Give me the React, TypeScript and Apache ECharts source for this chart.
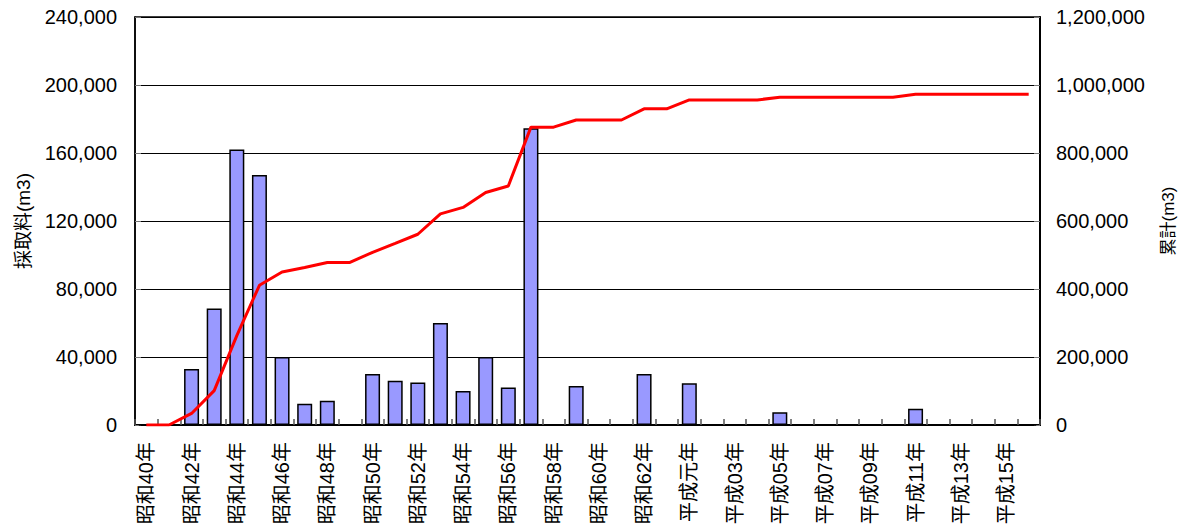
import React, { useEffect, useRef } from "react";
import * as echarts from "echarts";

const categories: string[] = [
  "昭和40年", "昭和41年", "昭和42年", "昭和43年", "昭和44年", "昭和45年", "昭和46年", "昭和47年",
  "昭和48年", "昭和49年", "昭和50年", "昭和51年", "昭和52年", "昭和53年", "昭和54年", "昭和55年",
  "昭和56年", "昭和57年", "昭和58年", "昭和59年", "昭和60年", "昭和61年", "昭和62年", "昭和63年",
  "平成元年", "平成02年", "平成03年", "平成04年", "平成05年", "平成06年", "平成07年", "平成08年",
  "平成09年", "平成10年", "平成11年", "平成12年", "平成13年", "平成14年", "平成15年", "平成16年",
];

// 採取料 (m3) per year
const extraction: number[] = [
  0, 0, 33000, 68600, 162000, 147000, 40000, 12500,
  14300, 0, 30000, 26000, 25000, 60000, 20000, 40000,
  22000, 174500, 0, 23000, 0, 0, 30000, 0,
  24500, 0, 0, 0, 7500, 0, 0, 0,
  0, 0, 9500, 0, 0, 0, 0, 0,
];

// 累計 (m3) cumulative
const cumulative: number[] = [
  0, 0, 34000, 101000, 263000, 411000, 450000, 463000,
  478000, 478000, 508000, 534000, 561000, 621000, 640000, 684000,
  703000, 876000, 876000, 897000, 897000, 897000, 930000, 930000,
  956000, 956000, 956000, 956000, 964000, 964000, 964000, 964000,
  964000, 964000, 973000, 973000, 973000, 973000, 973000, 973000,
];

const leftAxisName = "採取料(m3)";
const rightAxisName = "累計(m3)";

const FONT = "'Liberation Sans', Arial, 'Noto Sans CJK JP', sans-serif";

export default function App() {
  const ref = useRef<HTMLDivElement>(null);

  useEffect(() => {
    document.body.style.margin = "0";
    if (!ref.current) return;
    const chart = echarts.init(ref.current, null, { renderer: "svg" });
    const fmt = (v: number) => v.toLocaleString("en-US");
    chart.setOption({
      animation: false,
      backgroundColor: "#ffffff",
      textStyle: { fontFamily: FONT },
      grid: {
        left: 135,
        right: 145,
        top: 17,
        bottom: 106,
        show: true,
        borderColor: "#000",
        borderWidth: 1.5,
        backgroundColor: "transparent",
      },
      xAxis: {
        type: "category",
        data: categories,
        boundaryGap: true,
        axisLine: { show: true, lineStyle: { color: "#000", width: 2 } },
        axisTick: { show: true, inside: true, length: 6, interval: 0, lineStyle: { color: "#555", width: 1.5 } },
        axisLabel: {
          interval: 1,
          rotate: 90,
          margin: 17,
          color: "#000",
          fontSize: 20,
          fontFamily: FONT,
        },
        splitLine: { show: false },
      },
      yAxis: [
        {
          type: "value",
          min: 0,
          max: 240000,
          interval: 40000,
          name: leftAxisName,
          nameLocation: "middle",
          nameGap: 102,
          nameTextStyle: { color: "#000", fontSize: 19, fontFamily: FONT },
          axisLine: { show: true, lineStyle: { color: "#000", width: 1.5 } },
          axisTick: { show: true, inside: true, length: 6, lineStyle: { color: "#777" } },
          axisLabel: { color: "#000", fontSize: 20, margin: 18, formatter: fmt, fontFamily: FONT },
          splitLine: { show: true, lineStyle: { color: "#000", width: 1 } },
        },
        {
          type: "value",
          min: 0,
          max: 1200000,
          interval: 200000,
          name: rightAxisName,
          nameLocation: "middle",
          nameGap: 120,
          nameTextStyle: { color: "#000", fontSize: 17, fontFamily: FONT },
          axisLine: { show: true, lineStyle: { color: "#000", width: 2 } },
          axisTick: { show: true, inside: true, length: 6, lineStyle: { color: "#777" } },
          axisLabel: { color: "#000", fontSize: 20, margin: 16, formatter: fmt, fontFamily: FONT },
          splitLine: { show: false },
        },
      ],
      series: [
        {
          name: leftAxisName,
          type: "bar",
          data: extraction,
          yAxisIndex: 0,
          barWidth: 15,
          itemStyle: { color: "#9999FF", borderColor: "#000", borderWidth: 1.5 },
        },
        {
          name: rightAxisName,
          type: "line",
          data: cumulative,
          yAxisIndex: 1,
          symbol: "none",
          lineStyle: { color: "#FF0000", width: 3 },
          itemStyle: { color: "#FF0000" },
          z: 5,
        },
      ],
    });
    return () => chart.dispose();
  }, []);

  return <div ref={ref} style={{ width: 1185, height: 531 }} />;
}
